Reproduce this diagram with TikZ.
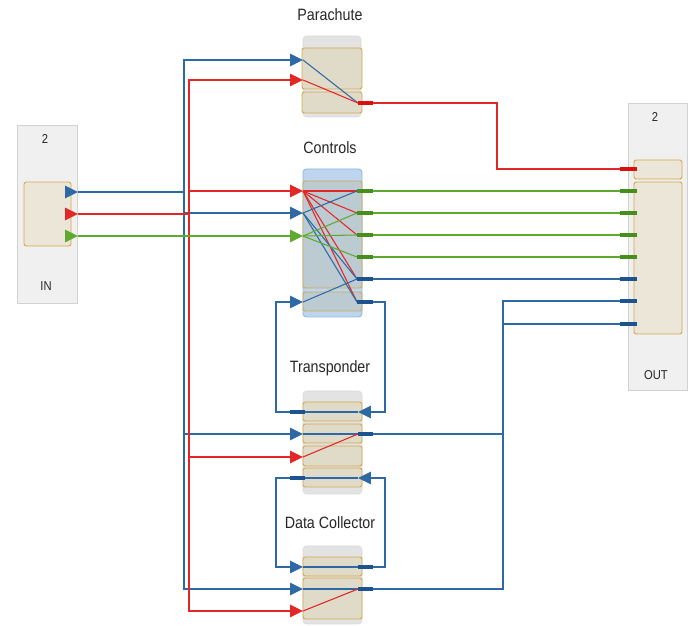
\documentclass[tikz,border=0pt]{standalone}
\usepackage{fontspec}
\setmainfont{Liberation Sans}
\newfontfamily\lblfont[FakeStretch=0.87]{Liberation Sans}
\usepackage{tikz}
\usetikzlibrary{arrows.meta,fit}

\definecolor{wireblue}{HTML}{2E69A6}
\definecolor{wirered}{HTML}{E32626}
\definecolor{wiregreen}{HTML}{5EA930}
\definecolor{stubblue}{HTML}{1B5491}
\definecolor{stubred}{HTML}{D81010}
\definecolor{stubgreen}{HTML}{468F1C}
\definecolor{panelgray}{HTML}{F0F0F0}
\definecolor{paneledge}{HTML}{D2D2D2}
\definecolor{blockgray}{HTML}{E3E3E3}
\definecolor{blockedge}{HTML}{D9D9D9}
\definecolor{portfill}{HTML}{E0DAC8}
\definecolor{inportfill}{HTML}{ECE6D8}
\definecolor{portedge}{HTML}{D4A94C}
\definecolor{selfill}{HTML}{BDD5EE}
\definecolor{seledge}{HTML}{8FB8E0}
\definecolor{selport}{HTML}{BCCAD2}

\begin{document}
\begin{tikzpicture}[
  x=0.03cm, y=-0.03cm,
  panel/.style={fill=panelgray, draw=paneledge, line width=0.8pt, inner sep=0pt},
  block/.style={fill=blockgray, draw=blockedge, line width=0.5pt, rounded corners=3pt, inner sep=0pt},
  port/.style={fill=portfill, draw=portedge, line width=0.8pt, rounded corners=2pt, inner sep=0pt},
  selblock/.style={block, fill=selfill, draw=seledge, line width=0.8pt},
  selport/.style={port, fill=selport},
  wire/.style={line width=1.5pt},
  thru/.style={line width=0.9pt},
  stub/.style={line width=2.6pt},
  tip/.style={-{Triangle[length=11pt,width=10.5pt]}},
  title/.style={font=\lblfont\fontsize{14}{16}\selectfont, text=black!85},
  small/.style={font=\lblfont\fontsize{11}{13}\selectfont, text=black!85}
]
\useasboundingbox (0,0) rectangle (688,626);

% IN
\node[panel, fit={(17,125) (77,303)}] (inpanel) {};
\node[port, fill=inportfill, fit={(24,182) (71,246)}] (inbox) {};
\node[small] (incount) at (45,139) {2};
\node[small] (inname) at (46,286) {IN};
\coordinate (in-b) at (78,192);
\coordinate (in-r) at (78,214);
\coordinate (in-g) at (78,236);

% OUT
\node[panel, fit={(628,103) (687,390)}] (outpanel) {};
\node[port, fill=inportfill, fit={(634,160) (682,179)}] (outbox1) {};
\node[port, fill=inportfill, fit={(634,182) (682,334)}] (outbox2) {};
\node[small] (outcount) at (655,117) {2};
\node[small] (outname) at (656,375) {OUT};
\foreach \n/\y in {1/169,2/191,3/213,4/235,5/257,6/279,7/301,8/324}
  \coordinate (out-\n) at (637,\y);

% Parachute
\node[title] (paratitle) at (330,15) {Parachute};
\node[block, fit={(303,36) (361,117)}] (para) {};
\node[port, fit={(302,48) (362,89)}] (para-p1) {};
\node[port, fit={(302,92) (362,113)}] (para-p2) {};
\coordinate (pa-i1) at (303,60);
\coordinate (pa-i2) at (303,80);
\coordinate (pa-o) at (358,103);

% Controls
\node[title] (ctrltitle) at (330,148) {Controls};
\node[selblock, fit={(303,169) (362,317)}] (ctrl) {};
\node[selport, fit={(303,181) (362,288)}] (ctrl-p1) {};
\node[selport, fit={(303,292) (362,311)}] (ctrl-p2) {};
\foreach \n/\y in {1/191,2/213,3/236,4/302}
  \coordinate (ct-i\n) at (303,\y);
\foreach \n/\y in {1/191,2/213,3/235,4/257,5/279,6/302}
  \coordinate (ct-o\n) at (357,\y);

% Transponder
\node[title] (trtitle) at (330,368) {Transponder};
\node[block, fit={(303,391) (362,494)}] (trans) {};
\node[port, fit={(303,402) (362,421)}] (trans-p1) {};
\node[port, fit={(303,424) (362,443)}] (trans-p2) {};
\node[port, fit={(303,446) (362,466)}] (trans-p3) {};
\node[port, fit={(303,468) (362,487)}] (trans-p4) {};
\coordinate (tr-l1) at (305,412);
\coordinate (tr-r1) at (358,412);
\coordinate (tr-i2) at (303,434);
\coordinate (tr-o2) at (358,434);
\coordinate (tr-i3) at (303,457);
\coordinate (tr-l4) at (305,478);
\coordinate (tr-r4) at (358,478);

% Data Collector
\node[title] (dctitle) at (330,523) {Data Collector};
\node[block, fit={(303,546) (362,624)}] (dcoll) {};
\node[port, fit={(303,557) (362,576)}] (dcoll-p1) {};
\node[port, fit={(303,578) (362,619)}] (dcoll-p2) {};
\coordinate (dc-i1) at (303,567);
\coordinate (dc-o1) at (358,567);
\coordinate (dc-i2) at (303,589);
\coordinate (dc-o2) at (358,589);
\coordinate (dc-i3) at (303,611);

% bus and loop points
\coordinate (bus-b) at (184,192);
\coordinate (bus-r) at (189,214);
\coordinate (jog) at (497,169);
\coordinate (rbus-7) at (503,301);
\coordinate (rbus-8) at (503,324);
\coordinate (loop-l) at (276,0);
\coordinate (loop-r) at (385,0);

% internal links
\draw[wireblue,thru] (pa-i1) -- (pa-o);
\draw[wirered,thru] (pa-i2) -- (pa-o);
\foreach \o in {1,2,3,5,6}
  \draw[wirered,thru] (ct-i1) -- (ct-o\o);
\foreach \o in {1,5,6}
  \draw[wireblue,thru] (ct-i2) -- (ct-o\o);
\foreach \o in {2,3,4}
  \draw[wiregreen,thru] (ct-i3) -- (ct-o\o);
\draw[wireblue,thru] (ct-i4) -- (ct-o5);
\draw[wireblue,thru] (tr-r1) -- (tr-l1);
\draw[wireblue,thru] (tr-i2) -- (tr-o2);
\draw[wirered,thru] (tr-i3) -- (tr-o2);
\draw[wireblue,thru] (tr-r4) -- (tr-l4);
\draw[wireblue,thru] (dc-i1) -- (dc-o1);
\draw[wireblue,thru] (dc-i2) -- (dc-o2);
\draw[wirered,thru] (dc-i3) -- (dc-o2);

% IN arrows
\draw[wireblue,wire,tip] (inbox.east |- in-b) -- (in-b);
\draw[wirered,wire,tip] (inbox.east |- in-r) -- (in-r);
\draw[wiregreen,wire,tip] (inbox.east |- in-g) -- (in-g);

% blue bus
\draw[wireblue,wire] (in-b) -- (bus-b);
\draw[wireblue,wire,tip] (bus-b) |- (pa-i1);
\draw[wireblue,wire,tip] (bus-b) |- (ct-i2);
\draw[wireblue,wire,tip] (bus-b) |- (tr-i2);
\draw[wireblue,wire,tip] (bus-b) |- (dc-i2);

% red bus
\draw[wirered,wire] (in-r) -- (bus-r);
\draw[wirered,wire,tip] (bus-r) |- (pa-i2);
\draw[wirered,wire,tip] (bus-r) |- (ct-i1);
\draw[wirered,wire,tip] (bus-r) |- (tr-i3);
\draw[wirered,wire,tip] (bus-r) |- (dc-i3);

\draw[wiregreen,wire,tip] (in-g) -- (ct-i3);

% to OUT
\draw[wirered,wire] (pa-o) -| (jog) -- (out-1);
\foreach \o/\n in {1/2,2/3,3/4,4/5}
  \draw[wiregreen,wire] (ct-o\o) -- (out-\n);
\draw[wireblue,wire] (ct-o5) -- (out-6);
\draw[wireblue,wire] (tr-o2) -| (rbus-7) -- (out-7);
\draw[wireblue,wire] (dc-o2) -| (rbus-8) -- (out-8);

% feedback loops
\draw[wireblue,wire,tip] (ct-o6) -| (loop-r |- tr-r1) -- (tr-r1);
\draw[wireblue,wire,tip] (tr-l1) -| (loop-l |- ct-i4) -- (ct-i4);
\draw[wireblue,wire,tip] (dc-o1) -| (loop-r |- tr-r4) -- (tr-r4);
\draw[wireblue,wire,tip] (tr-l4) -| (loop-l |- dc-i1) -- (dc-i1);

% output stubs
\draw[stubred,stub] (pa-o) -- ++(15,0);
\foreach \o in {1,2,3,4}
  \draw[stubgreen,stub] (ct-o\o) -- ++(16,0);
\foreach \o in {5,6}
  \draw[stubblue,stub] (ct-o\o) -- ++(16,0);
\draw[stubblue,stub] (tr-l1) -- ++(-15,0);
\draw[stubblue,stub] (tr-o2) -- ++(15,0);
\draw[stubblue,stub] (tr-l4) -- ++(-15,0);
\draw[stubblue,stub] (dc-o1) -- ++(15,0);
\draw[stubblue,stub] (dc-o2) -- ++(15,0);
\draw[stubred,stub] (out-1) -- ++(-17,0);
\foreach \n in {2,3,4,5}
  \draw[stubgreen,stub] (out-\n) -- ++(-17,0);
\foreach \n in {6,7,8}
  \draw[stubblue,stub] (out-\n) -- ++(-17,0);
\end{tikzpicture}
\end{document}
